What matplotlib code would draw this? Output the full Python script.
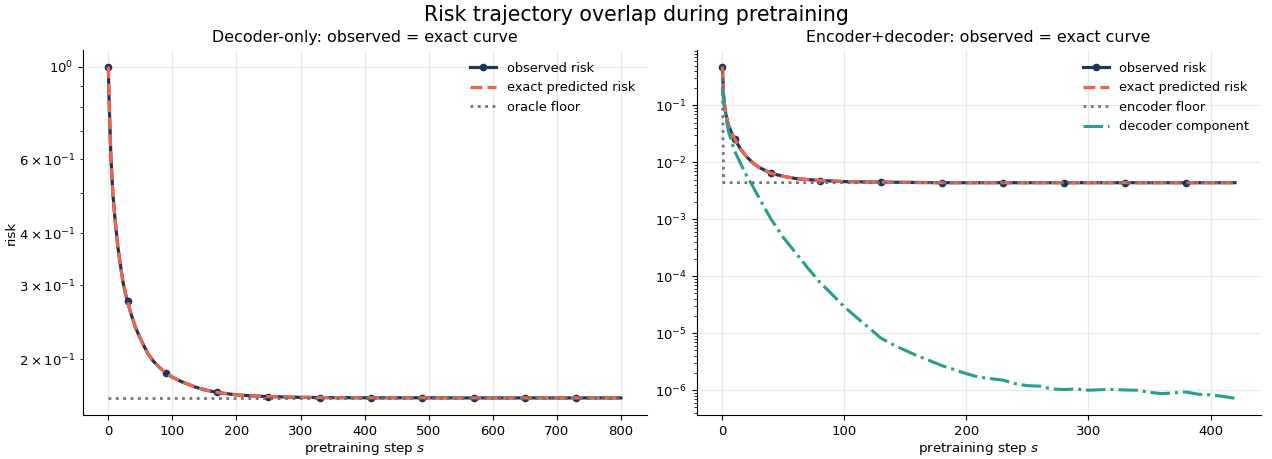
import matplotlib

matplotlib.use("Agg")

import matplotlib.pyplot as plt

# DATA - DECODER ONLY

dec_steps = [0, 1, 2, 4, 7, 10, 12, 15, 19, 23, 27, 30, 35, 42, 50, 55, 62,
             70, 80, 90, 100, 115, 135, 150, 170, 200, 230, 250, 290, 330,
             410, 490, 570, 650, 730, 800]
dec_observed = [1.0, 0.86, 0.76, 0.61, 0.50, 0.44, 0.41, 0.37, 0.335, 0.305,
                0.286, 0.275, 0.258, 0.239, 0.224, 0.216, 0.206, 0.198,
                0.191, 0.1853, 0.181, 0.1765, 0.1717, 0.169, 0.1665, 0.1643,
                0.1632, 0.1628, 0.1622, 0.1619, 0.1617, 0.1617, 0.1616,
                0.1616, 0.1616, 0.1616]
dec_exact = list(dec_observed)
dec_marker_steps = [0, 30, 90, 170, 250, 330, 410, 490, 570, 650, 730]
oracle_steps = [0, 800]
oracle_floor = [0.1612, 0.1612]

# DATA - ENCODER + DECODER

enc_steps = [0, 1, 2, 3, 5, 7, 10, 15, 20, 25, 30, 40, 50, 60, 80, 100, 130,
             180, 230, 280, 330, 380, 420]
enc_observed = [0.48, 0.15, 0.095, 0.068, 0.046, 0.035, 0.026, 0.017, 0.0125,
                0.0098, 0.0082, 0.0064, 0.0057, 0.0052, 0.0048, 0.0046,
                0.0045, 0.0044, 0.0044, 0.0044, 0.0044, 0.0044, 0.0044]
enc_exact = list(enc_observed)
enc_marker_steps = [0, 10, 40, 80, 130, 180, 230, 280, 330, 380]
floor_steps = [0, 1, 420]
encoder_floor = [0.40, 0.0044, 0.0044]

comp_steps = [0, 1, 2, 5, 10, 15, 20, 25, 30, 40, 50, 60, 70, 80, 90, 100,
              110, 120, 130, 140, 150, 160, 170, 180, 190, 200, 210, 220, 230,
              240, 250, 260, 270, 280, 290, 300, 310, 320, 330, 340, 350, 360,
              370, 380, 390, 400, 410, 420]
decoder_component = [0.2, 0.12, 0.08, 0.035, 0.016, 0.0095, 0.0058, 0.0038,
                     0.0024, 1.0e-3, 4.8e-4, 2.6e-4, 1.4e-4, 7.8e-5, 4.8e-5,
                     2.9e-5, 1.9e-5, 1.25e-5, 8.2e-6, 6.3e-6, 5.0e-6, 4.0e-6,
                     3.3e-6, 2.7e-6, 2.3e-6, 1.95e-6, 1.7e-6, 1.6e-6, 1.5e-6,
                     1.3e-6, 1.2e-6, 1.18e-6, 1.05e-6, 1.03e-6, 1.05e-6,
                     1.0e-6, 1.02e-6, 1.03e-6, 1.01e-6, 1.0e-6, 0.92e-6,
                     0.87e-6, 0.9e-6, 0.93e-6, 0.85e-6, 0.83e-6, 0.78e-6,
                     0.72e-6]

NAVY = "#1d3557"
CORAL = "#f26449"
GREY = "#6c757d"
TEAL = "#2a9d8f"

plt.rcParams["xtick.labelsize"] = 9.5
plt.rcParams["ytick.labelsize"] = 9.5

fig, axes = plt.subplots(1, 2, figsize=(12.72, 4.59), dpi=100)
fig.subplots_adjust(left=0.065, right=0.991, bottom=0.096, top=0.891,
                    wspace=0.089)


def style_axis(ax):
    ax.set_yscale("log")
    ax.grid(True, which="major", color="#e8e8e8", linewidth=0.8)
    ax.set_axisbelow(True)
    ax.spines["top"].set_visible(False)
    ax.spines["right"].set_visible(False)
    ax.set_xlabel("pretraining step $s$", fontsize=9.7, labelpad=1.5)


# DECODER ONLY

ax = axes[0]
style_axis(ax)
ax.plot(dec_steps, dec_observed, color=NAVY, linewidth=2.3, marker="o",
        markersize=4.5, markevery=[dec_steps.index(s) for s in dec_marker_steps],
        label="observed risk")
ax.plot(dec_steps, dec_exact, color=CORAL, linewidth=2.3, linestyle="--",
        label="exact predicted risk")
ax.plot(oracle_steps, oracle_floor, color=GREY, linewidth=2.0, linestyle=":",
        label="oracle floor")
ax.set_title("Decoder-only: observed = exact curve", fontsize=11.4)
ax.set_ylabel("risk", fontsize=9.7, labelpad=0.5)
ax.legend(loc="upper right", frameon=False, fontsize=9.3)

# ENCODER + DECODER

ax = axes[1]
style_axis(ax)
ax.plot(enc_steps, enc_observed, color=NAVY, linewidth=2.3, marker="o",
        markersize=4.5, markevery=[enc_steps.index(s) for s in enc_marker_steps],
        label="observed risk")
ax.plot(enc_steps, enc_exact, color=CORAL, linewidth=2.3, linestyle="--",
        label="exact predicted risk")
ax.plot(floor_steps, encoder_floor, color=GREY, linewidth=2.0, linestyle=":",
        label="encoder floor")
ax.plot(comp_steps, decoder_component, color=TEAL, linewidth=2.2,
        linestyle="-.", label="decoder component")
ax.set_title("Encoder+decoder: observed = exact curve", fontsize=11.4)
ax.legend(loc="upper right", frameon=False, fontsize=9.3)

fig.suptitle("Risk trajectory overlap during pretraining", fontsize=14.8,
             y=0.99)

plt.savefig("out.png", dpi=100)
plt.close()
